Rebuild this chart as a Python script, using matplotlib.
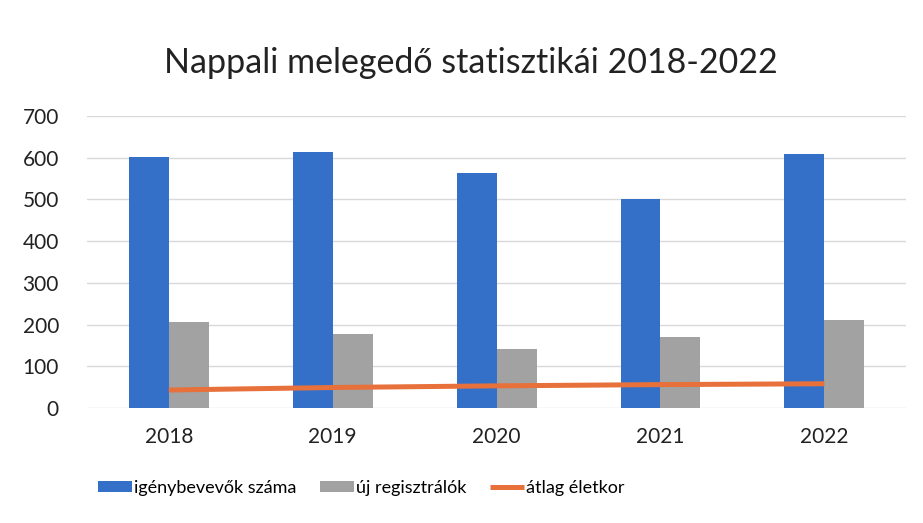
import numpy as np
import matplotlib
matplotlib.use("Agg")
import matplotlib.pyplot as plt

years = ["2018", "2019", "2020", "2021", "2022"]
igenybevevok = [602, 614, 563, 500, 608]
uj_regisztralok = [206, 177, 142, 170, 210]
atlag_eletkor = [43, 49, 53, 56, 58]

plt.rcParams["font.family"] = ["Lato", "DejaVu Sans"]

fig = plt.figure(figsize=(9.23, 5.23), dpi=100)
ax = fig.add_axes([0.094, 0.22, 0.888, 0.558])

x = np.arange(len(years))
w = 0.244
b1 = ax.bar(x - w / 2, igenybevevok, w, color="#3570C8", zorder=2)
b2 = ax.bar(x + w / 2, uj_regisztralok, w, color="#A2A2A2", zorder=2)
l1, = ax.plot(x, atlag_eletkor, color="#E8703A", lw=3.6, zorder=3, solid_capstyle="butt")

ax.set_xlim(-0.5, len(years) - 0.5)
ax.set_ylim(0, 700)
ax.set_yticks(range(0, 701, 100))
ax.set_xticks(x)
ax.set_xticklabels(years)
ax.yaxis.grid(True, color="#D9D9D9", lw=1)
ax.set_axisbelow(True)
for s in ax.spines.values():
    s.set_visible(False)
ax.tick_params(length=0, labelsize=15, colors="#222222")
ax.tick_params(axis="y", pad=20)
ax.tick_params(axis="x", pad=14)

fig.suptitle("Nappali melegedő statisztikái 2018-2022", x=0.51, y=0.91, fontsize=24.5,
             color="#222222")

ax.legend([b1, b2, l1], ["igénybevevők száma", "új regisztrálók", "átlag életkor"],
          loc="upper center", bbox_to_anchor=(0.335, -0.19), ncol=3, frameon=False,
          fontsize=13, handlelength=1.9, handleheight=0.55, handletextpad=0.1,
          columnspacing=1.3)

fig.savefig("out.png", dpi=100)
